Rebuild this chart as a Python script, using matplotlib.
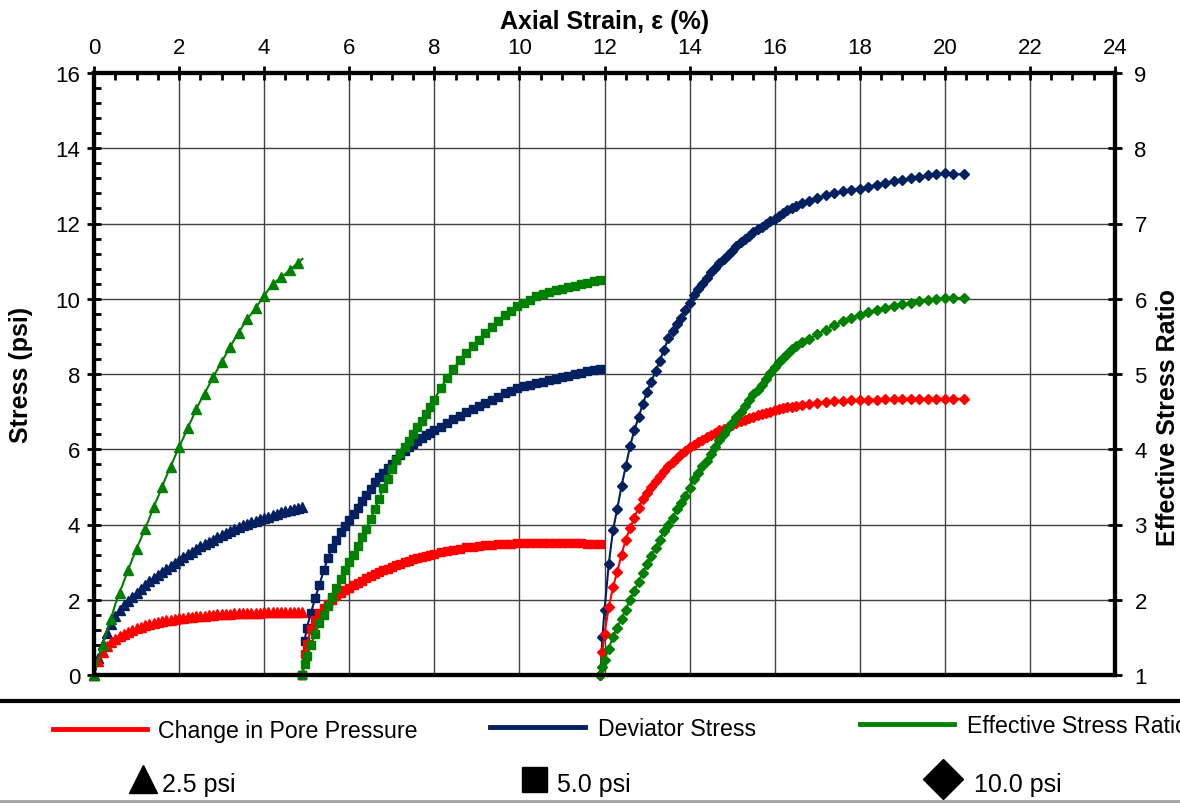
import numpy as np
import matplotlib
matplotlib.use('Agg')
import matplotlib.pyplot as plt
from matplotlib.lines import Line2D

plt.rcParams['font.family'] = ['Liberation Sans', 'DejaVu Sans']

# stage 1 : 2.5 psi (triangles)
s1_strain = [0.0, 0.1, 0.2, 0.3, 0.4, 0.5, 0.6, 0.7, 0.8, 0.9,
             1.0, 1.1, 1.2, 1.3, 1.4, 1.5, 1.6, 1.7, 1.8, 1.9,
             2.0, 2.1, 2.2, 2.3, 2.4, 2.5, 2.6, 2.7, 2.8, 2.9,
             3.0, 3.1, 3.2, 3.3, 3.4, 3.5, 3.6, 3.7, 3.8, 3.9,
             4.0, 4.1, 4.2, 4.3, 4.4, 4.5, 4.6, 4.7, 4.8, 4.9]
s1_pore = [0, 0.38, 0.6, 0.76, 0.88, 0.97, 1.04, 1.1, 1.15, 1.2,
           1.24, 1.28, 1.32, 1.35, 1.38, 1.41, 1.43, 1.45, 1.47, 1.49,
           1.51, 1.52, 1.54, 1.55, 1.56, 1.57, 1.58, 1.59, 1.6, 1.61,
           1.62, 1.62, 1.63, 1.64, 1.64, 1.65, 1.65, 1.66, 1.66, 1.66,
           1.67, 1.67, 1.67, 1.68, 1.68, 1.68, 1.68, 1.68, 1.68, 1.67]
s1_dev = [0, 0.45, 0.82, 1.12, 1.36, 1.56, 1.73, 1.86, 1.97, 2.08,
          2.18, 2.29, 2.4, 2.5, 2.58, 2.66, 2.74, 2.82, 2.9, 2.98,
          3.06, 3.14, 3.21, 3.28, 3.35, 3.42, 3.48, 3.54, 3.6, 3.66,
          3.72, 3.78, 3.84, 3.89, 3.94, 3.98, 4.02, 4.06, 4.1, 4.14,
          4.18, 4.21, 4.25, 4.28, 4.32, 4.35, 4.38, 4.41, 4.44, 4.47]
s1_esr = [1.0, 1.21, 1.4, 1.58, 1.75, 1.94, 2.09, 2.24, 2.39, 2.54,
          2.68, 2.81, 2.94, 3.08, 3.23, 3.36, 3.5, 3.64, 3.77, 3.9,
          4.03, 4.15, 4.28, 4.4, 4.53, 4.64, 4.74, 4.85, 4.96, 5.06,
          5.16, 5.26, 5.36, 5.46, 5.55, 5.64, 5.73, 5.8, 5.88, 5.96,
          6.04, 6.12, 6.19, 6.24, 6.29, 6.33, 6.38, 6.43, 6.48, 6.53]

# stage 2 : 5.0 psi (squares)
s2_strain = [4.9, 4.95, 5.0, 5.1, 5.2, 5.3, 5.4, 5.5, 5.6, 5.7,
             5.8, 5.9, 6.0, 6.1, 6.2, 6.3, 6.4, 6.5, 6.6, 6.7,
             6.8, 6.9, 7.0, 7.1, 7.2, 7.3, 7.4, 7.5, 7.6, 7.7,
             7.8, 7.9, 8.0, 8.15, 8.3, 8.45, 8.6, 8.75, 8.9, 9.05,
             9.2, 9.35, 9.5, 9.65, 9.8, 9.95, 10.1, 10.25, 10.4, 10.55,
             10.7, 10.85, 11.0, 11.15, 11.3, 11.45, 11.6, 11.75, 11.9]
s2_pore = [0, 0.55, 0.82, 1.22, 1.46, 1.64, 1.78, 1.9, 2.0, 2.09,
           2.17, 2.25, 2.32, 2.39, 2.45, 2.51, 2.57, 2.63, 2.68, 2.74,
           2.79, 2.83, 2.88, 2.92, 2.96, 3.0, 3.04, 3.07, 3.1, 3.13,
           3.16, 3.19, 3.22, 3.26, 3.3, 3.33, 3.36, 3.39, 3.41, 3.43,
           3.45, 3.46, 3.47, 3.48, 3.49, 3.5, 3.5, 3.5, 3.5, 3.5,
           3.5, 3.5, 3.5, 3.5, 3.5, 3.5, 3.49, 3.49, 3.49]
s2_dev = [0, 0.9, 1.25, 1.65, 2.05, 2.4, 2.78, 3.12, 3.38, 3.6,
          3.8, 3.97, 4.12, 4.28, 4.45, 4.62, 4.78, 4.95, 5.12, 5.25,
          5.38, 5.5, 5.62, 5.74, 5.86, 5.95, 6.05, 6.14, 6.23, 6.3,
          6.37, 6.44, 6.5, 6.6, 6.7, 6.8, 6.89, 6.98, 7.06, 7.14,
          7.23, 7.31, 7.4, 7.49, 7.56, 7.63, 7.67, 7.71, 7.76, 7.8,
          7.84, 7.88, 7.92, 7.96, 8.0, 8.03, 8.07, 8.1, 8.13]
s2_esr = [1.0, 1.15, 1.25, 1.4, 1.54, 1.69, 1.8, 1.92, 2.03, 2.15,
          2.28, 2.4, 2.5, 2.6, 2.71, 2.83, 2.94, 3.07, 3.2, 3.34,
          3.48, 3.61, 3.74, 3.86, 3.95, 4.03, 4.11, 4.2, 4.29, 4.38,
          4.47, 4.56, 4.66, 4.81, 4.95, 5.07, 5.18, 5.28, 5.37, 5.45,
          5.54, 5.62, 5.7, 5.78, 5.84, 5.9, 5.94, 5.98, 6.03, 6.06,
          6.09, 6.11, 6.13, 6.15, 6.17, 6.19, 6.21, 6.23, 6.25]

# stage 3 : 10.0 psi (diamonds)
s3_strain = [11.9, 11.95, 12.0, 12.1, 12.2, 12.3, 12.4, 12.5, 12.6, 12.7,
             12.8, 12.9, 13.0, 13.1, 13.2, 13.3, 13.4, 13.5, 13.6, 13.7,
             13.8, 13.9, 14.0, 14.1, 14.2, 14.3, 14.4, 14.5, 14.6, 14.7,
             14.8, 14.9, 15.0, 15.1, 15.2, 15.3, 15.4, 15.5, 15.6, 15.7,
             15.8, 15.9, 16.0, 16.1, 16.2, 16.3, 16.4, 16.5, 16.65, 16.8,
             17.0, 17.2, 17.4, 17.6, 17.8, 18.0, 18.2, 18.4, 18.6, 18.8,
             19.0, 19.2, 19.4, 19.6, 19.8, 20.0, 20.2, 20.45]
s3_pore = [0, 0.6, 1.1, 1.8, 2.33, 2.75, 3.2, 3.6, 3.9, 4.18,
           4.45, 4.68, 4.85, 5.0, 5.15, 5.3, 5.43, 5.55, 5.67, 5.78,
           5.87, 5.96, 6.05, 6.12, 6.19, 6.25, 6.32, 6.38, 6.44, 6.5,
           6.55, 6.6, 6.65, 6.7, 6.74, 6.79, 6.83, 6.86, 6.9, 6.93,
           6.97, 7.0, 7.03, 7.06, 7.09, 7.11, 7.13, 7.15, 7.18, 7.21,
           7.24, 7.26, 7.28, 7.29, 7.3, 7.31, 7.32, 7.32, 7.33, 7.33,
           7.34, 7.34, 7.34, 7.34, 7.34, 7.34, 7.34, 7.34]
s3_dev = [0, 1.0, 1.72, 2.95, 3.85, 4.42, 5.02, 5.55, 6.08, 6.5,
          6.85, 7.2, 7.52, 7.8, 8.07, 8.35, 8.65, 8.95, 9.15, 9.32,
          9.5, 9.7, 9.9, 10.09, 10.25, 10.4, 10.55, 10.7, 10.82, 10.94,
          11.06, 11.17, 11.28, 11.39, 11.5, 11.59, 11.68, 11.77, 11.85, 11.92,
          11.99, 12.06, 12.12, 12.2, 12.28, 12.36, 12.42, 12.47, 12.54, 12.6,
          12.68, 12.75, 12.81, 12.86, 12.9, 12.93, 12.98, 13.03, 13.08, 13.12,
          13.16, 13.2, 13.24, 13.28, 13.31, 13.33, 13.31, 13.31]
s3_esr = [1.0, 1.1, 1.2, 1.35, 1.51, 1.63, 1.75, 1.87, 2.0, 2.12,
          2.24, 2.36, 2.47, 2.58, 2.69, 2.8, 2.92, 3.0, 3.09, 3.2,
          3.29, 3.38, 3.49, 3.6, 3.69, 3.78, 3.85, 3.94, 4.03, 4.12,
          4.2, 4.28, 4.35, 4.43, 4.5, 4.58, 4.65, 4.73, 4.79, 4.86,
          4.94, 5.01, 5.09, 5.16, 5.21, 5.27, 5.33, 5.37, 5.42, 5.46,
          5.53, 5.59, 5.65, 5.7, 5.75, 5.79, 5.82, 5.85, 5.88, 5.91,
          5.93, 5.95, 5.97, 5.99, 6.0, 6.01, 6.01, 6.01]

series_names = ['Change in Pore Pressure', 'Deviator Stress', 'Effective Stress Ratio']
stage_names = ['2.5 psi', '5.0 psi', '10.0 psi']

RED = '#ff0000'
NAVY = '#002060'
GREEN = '#008000'

fig = plt.figure(figsize=(11.8, 8.04), dpi=100)
ax = fig.add_axes([94/1180, 1-676/804, (1115-94)/1180, (676-74)/804])
ax2 = ax.twinx()

stages = [(s1_strain, s1_pore, s1_dev, s1_esr, '^', 6.5),
          (s2_strain, s2_pore, s2_dev, s2_esr, 's', 6),
          (s3_strain, s3_pore, s3_dev, s3_esr, 'D', 5)]
for x, pore, dev, esr, mk, ms in stages:
    ax.plot(x, dev, color=NAVY, marker=mk, ms=ms, lw=1.5, clip_on=False, zorder=3)
    ax.plot(x, pore, color=RED, marker=mk, ms=ms, lw=1.5, clip_on=False, zorder=4)
    ax2.plot(x, esr, color=GREEN, marker=mk, ms=ms, lw=1.5, clip_on=False,
             markevery=2 if mk == '^' else 1)

ax.set_xlim(0, 24)
ax.set_ylim(0, 16)
ax2.set_ylim(1, 9)

ax.xaxis.set_ticks_position('top')
ax.xaxis.set_label_position('top')
ax.set_xticks(range(0, 25, 2))
ax.set_xticks(np.arange(0, 24.01, 0.5), minor=True)
ax.set_yticks(range(0, 17, 2))
ax.set_yticks(np.arange(0, 16.01, 0.4), minor=True)
ax2.set_yticks(range(1, 10))

ax.tick_params(which='major', direction='inout', length=10, width=2, labelsize=16, pad=5)
ax.tick_params(axis='x', which='major', pad=6)
ax.tick_params(which='minor', direction='in', length=5, width=2)
ax.tick_params(axis='x', which='both', bottom=False, top=True)
ax2.tick_params(which='major', direction='inout', length=10, width=2, labelsize=16, pad=9)

ax.grid(True, which='major', color='#404040', lw=1)
ax.set_axisbelow(True)

for sp in ax.spines.values():
    sp.set_linewidth(3)
for sp in ax2.spines.values():
    sp.set_linewidth(3)

ax.set_xlabel('Axial Strain, ε (%)', fontsize=18, fontweight='bold', labelpad=6)
ax.set_ylabel('Stress (psi)', fontsize=18, fontweight='bold', labelpad=16)
ax2.set_ylabel('Effective Stress Ratio', fontsize=18, fontweight='bold')
ax2.yaxis.set_label_coords(1.0405, 0.43)

# legend area
fig.add_artist(Line2D([0, 1], [1-702/804]*2, color='black', lw=3))
fig.add_artist(Line2D([0, 1], [1-802/804]*2, color='#a0a0a0', lw=2))

line_pos = [(53, 147, 730, 158), (490, 585, 728, 598), (860, 954, 725, 967)]
for name, col, (x0, x1, yy, tx) in zip(series_names, [RED, NAVY, GREEN], line_pos):
    fig.add_artist(Line2D([x0/1180, x1/1180], [1-yy/804]*2, color=col, lw=3.5))
    fig.text(tx/1180, 1-(yy+2)/804, name, fontsize=16.7, va='center', ha='left')

mark_pos = [('^', 143, 162, 20), ('s', 534, 557, 18), ('D', 943, 974, 20)]
for name, (mk, mx, tx, msz) in zip(stage_names, mark_pos):
    fig.add_artist(Line2D([mx/1180], [1-780/804], marker=mk, ms=msz, color='black', lw=0))
    fig.text(tx/1180, 1-785/804, name, fontsize=18, va='center', ha='left')

fig.savefig('out.png', dpi=100)
